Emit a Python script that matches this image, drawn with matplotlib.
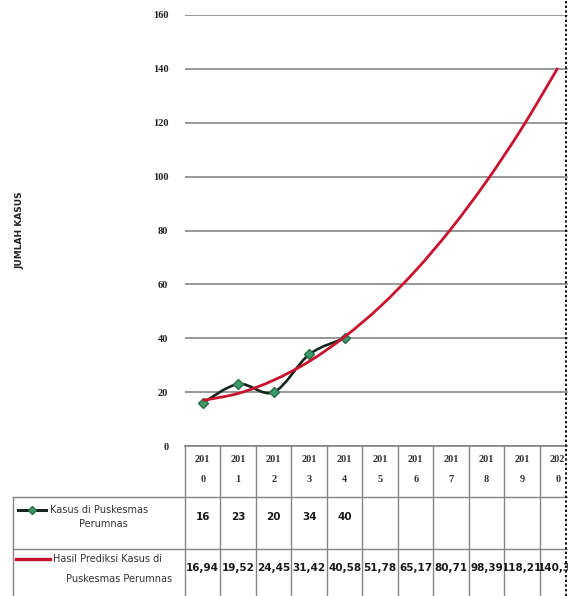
import numpy as np
import matplotlib
matplotlib.use("Agg")
import matplotlib.pyplot as plt
from matplotlib.path import Path
from matplotlib.patches import PathPatch, Rectangle
from matplotlib.transforms import Bbox, TransformedBbox

# data
years = [2010, 2011, 2012, 2013, 2014, 2015, 2016, 2017, 2018, 2019, 2020]
kasus = [16, 23, 20, 34, 40]
prediksi = [16.94, 19.52, 24.45, 31.42, 40.58, 51.78, 65.17, 80.71, 98.39, 118.21, 140.31]
seri_kasus = "Kasus di Puskesmas Perumnas"
seri_prediksi = "Hasil Prediksi Kasus di Puskesmas Perumnas"
y_ticks = [0, 20, 40, 60, 80, 100, 120, 140, 160]

W, H = 571, 596
fig = plt.figure(figsize=(W / 100, H / 100), dpi=100)

RED = "#c8132f"
DARK = "#16261c"
GREEN = "#3d9a6b"
GRID = "#858585"


def smooth_path(xs, ys):
    # courbe lissée façon Excel (Catmull-Rom -> Bezier)
    pts = np.column_stack([xs, ys]).astype(float)
    verts = [pts[0]]
    codes = [Path.MOVETO]
    for i in range(len(pts) - 1):
        p0 = pts[i - 1] if i > 0 else pts[i]
        p1, p2 = pts[i], pts[i + 1]
        p3 = pts[i + 2] if i + 2 < len(pts) else pts[i + 1]
        verts += [p1 + (p2 - p0) / 6, p2 - (p3 - p1) / 6, p2]
        codes += [Path.CURVE4] * 3
    return Path(verts, codes)


# zone du graphique
ax = fig.add_axes([185 / W, 150 / H, 390.5 / W, 431 / H])
ax.set_xlim(-0.5, len(years) - 0.5)
ax.set_ylim(0, 160)
ax.set_yticks(y_ticks)
ax.set_xticks([])
ax.grid(axis="y", color=GRID, lw=1.2)
ax.set_axisbelow(True)
for s in ["left", "right", "top"]:
    ax.spines[s].set_visible(False)
ax.spines["bottom"].set_color(GRID)
ax.spines["bottom"].set_linewidth(1.2)
ax.tick_params(axis="y", length=0, pad=12, labelsize=7.5, labelcolor="#222222")
for lab in ax.get_yticklabels():
    lab.set_family("Liberation Serif")
    lab.set_fontweight("bold")

xk = np.arange(len(kasus))
xp = np.arange(len(prediksi))
ax.add_patch(PathPatch(smooth_path(xk, kasus), fill=False, ec=DARK, lw=1.9, zorder=3))
ax.plot(xk, kasus, "D", ms=5.5, color=GREEN, mec="#2a6e4a", zorder=4)
ax.add_patch(PathPatch(smooth_path(xp, prediksi), fill=False, ec=RED, lw=2.0, zorder=5))

fig.text(20 / W, 1 - 230 / H, "JUMLAH KASUS", rotation=90, ha="center", va="center",
         fontsize=6.5, fontweight="bold", color="#222222")

# tableau de données
u = 1 / 35.5
xl = -0.5 - 172 * u
tab = fig.add_axes([13 / W, 0, (575.5 - 13) / W, 150 / H])
tab.set_xlim(xl, len(years) - 0.5)
tab.set_ylim(0, 150)
tab.axis("off")

lc = dict(color=GRID, lw=1.0, clip_on=False)
tab.plot([xl, len(years) - 0.5], [99, 99], **lc)
tab.plot([xl, len(years) - 0.5], [47, 47], **lc)
tab.plot([xl, xl], [0, 99], **lc)
for i in range(len(years) + 1):
    tab.plot([i - 0.5, i - 0.5], [0, 150], **lc)

for i, yr in enumerate(years):
    s = str(yr)
    tab.text(i, 136, s[:3], ha="center", va="center", fontsize=7.5,
             family="Liberation Serif", fontweight="bold", color="#333333")
    tab.text(i, 116, s[3:], ha="center", va="center", fontsize=7.5,
             family="Liberation Serif", fontweight="bold", color="#333333")


def cell_text(i, y, s):
    t = tab.text(i, y, s, ha="center", va="center", fontsize=7.5, color="#1a1a1a",
                 fontweight="bold")
    t.set_clip_box(TransformedBbox(Bbox.from_extents(i - 0.5, 0, i + 0.5, 150),
                                   tab.transData))
    t.set_clip_on(True)


for i, v in enumerate(kasus):
    cell_text(i, 79, str(v))
for i, v in enumerate(prediksi):
    cell_text(i, 28, f"{v:.2f}".replace(".", ","))

# légende dans le tableau
tab.plot([xl + 5 * u, xl + 33 * u], [86, 86], color=DARK, lw=2.2)
tab.plot([xl + 19 * u], [86], "D", ms=4.5, color=GREEN, mec="#2a6e4a")
tab.text(xl + 37 * u, 86, seri_kasus.rsplit(" ", 1)[0], ha="left", va="center",
         fontsize=7, color="#333333")
tab.text(xl + 90 * u, 72, seri_kasus.rsplit(" ", 1)[1], ha="center", va="center",
         fontsize=7, color="#333333")
tab.plot([xl + 3 * u, xl + 37 * u], [37, 37], color=RED, lw=2.4)
tab.text(xl + 40 * u, 37, "Hasil Prediksi Kasus di", ha="left", va="center", fontsize=7,
         color="#333333")
tab.text(xl + 106 * u, 17, "Puskesmas Perumnas", ha="center", va="center", fontsize=7,
         color="#333333")

# bord pointillé de la zone du graphique
fig.patches.append(Rectangle((567.5 / W, 0), 4 / W, 1, transform=fig.transFigure,
                             color="white", zorder=20))
fig.lines.append(plt.Line2D([566 / W, 566 / W], [0, 1], transform=fig.transFigure,
                            color="#111111", lw=1.4, ls=(0, (1.2, 1.2)), zorder=21))

fig.savefig("out.png", dpi=100)
